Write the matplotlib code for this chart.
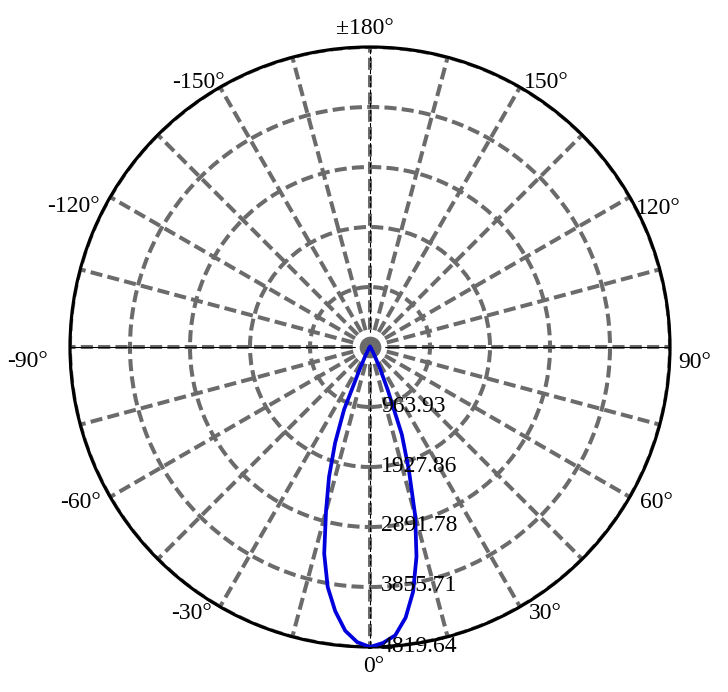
import numpy as np
import matplotlib.pyplot as plt

plt.rcParams['font.family'] = ['Liberation Serif', 'DejaVu Serif']

# luminous intensity (cd), angle 0 points down
angles_deg = [-180, -90, -60, -45, -40, -35, -30, -27.5, -25, -22.5,
              -20, -17.5, -15, -12.5, -10, -7.5, -5, -2.5, 0,
              2.5, 5, 7.5, 10, 12.5, 15, 17.5, 20, 22.5, 25, 27.5, 30,
              35, 40, 45, 60, 90, 180]
intensity = [0, 0, 2, 5, 10, 30, 80, 170, 380, 1090,
             1640, 2190, 2730, 3400, 3915, 4280, 4575, 4745, 4819.64,
             4760, 4650, 4385, 3990, 3450, 2805, 2080, 1495, 740, 370, 170, 90,
             30, 10, 5, 2, 0, 0]

ring_values = [963.93, 1927.86, 2891.78, 3855.71, 4819.64]
ring_labels = ['963.93', '1927.86', '2891.78', '3855.71', '4819.64']
spoke_deg = list(range(0, 360, 15))
angle_label_deg = [0, 30, 60, 90, 120, 150, 180, -150, -120, -90, -60, -30]
angle_labels = ['0°', '30°', '60°', '90°', '120°', '150°', '±180°',
                '-150°', '-120°', '-90°', '-60°', '-30°']
# where each angle label sits relative to the rim (pixels, right/up)
label_offsets = [(4, -20), (25, -7), (27, -5), (25, -15), (28, -11), (26, 5),
                 (-5, 19), (-22, 5), (-37, -10), (-43, -15), (-30, -5), (-28, -7)]

GRID = '#6b6b6b'
rmax = ring_values[-1]

fig = plt.figure(figsize=(7.28, 6.92), dpi=100)
ax = fig.add_axes([70 / 728, 45 / 692, 600 / 728, 600 / 692], projection='polar')
ax.set_theta_zero_location('S')
ax.set_theta_direction(1)
ax.set_ylim(0, rmax)

ax.set_thetagrids(spoke_deg, labels=[''] * len(spoke_deg))
ax.set_rgrids(ring_values, labels=[''] * len(ring_values))
ax.grid(True, color=GRID, lw=2.9, ls=(0, (3.0, 1.3)))
ax.tick_params(pad=0, length=0)
ax.spines['polar'].set_color('black')
ax.spines['polar'].set_linewidth(2.3)

# thin black axis lines through the centre
for a in (90, 270):
    ax.plot([np.radians(a)] * 2, [0, rmax], color='black', lw=0.8, zorder=3)
for a in (0, 180):
    ax.plot([np.radians(a)] * 2, [0, rmax], color='black', lw=0.8,
            ls=(0, (4, 2)), zorder=3)

ax.scatter([0], [0], s=340, color=GRID, edgecolors='white', linewidths=2.8, zorder=4)

ax.plot(np.radians(angles_deg), intensity, color='#0000dd', lw=2.7,
        solid_joinstyle='round', zorder=5)

for r, lab in zip(ring_values, ring_labels):
    ax.annotate(lab, xy=(0, r), xytext=(11, 1), textcoords='offset pixels',
                ha='left', va='center', fontsize=17, zorder=6)

for a, lab, (dx, dy) in zip(angle_label_deg, angle_labels, label_offsets):
    ax.annotate(lab, xy=(np.radians(a), rmax), xytext=(dx, dy),
                textcoords='offset pixels', ha='center', va='center',
                fontsize=17, annotation_clip=False)

fig.savefig('out.png', dpi=100)
